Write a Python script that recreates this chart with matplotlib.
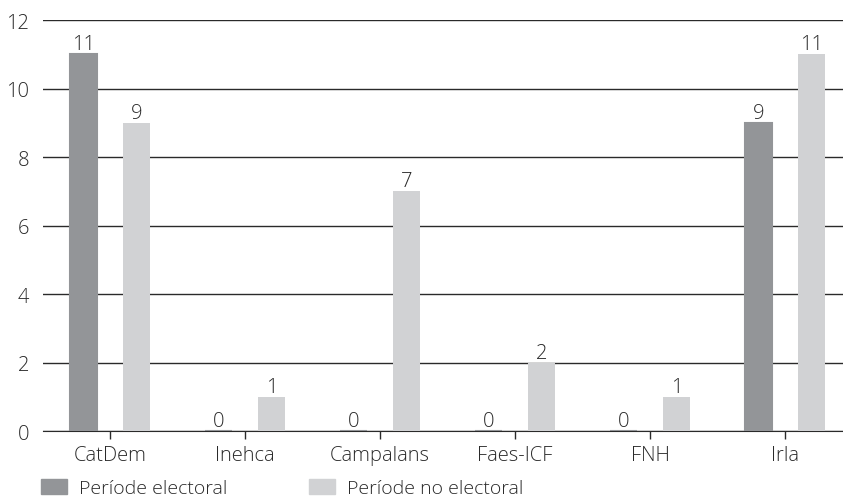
import matplotlib.pyplot as plt
import matplotlib.patches as mpatches
import numpy as np

plt.rcParams['font.family'] = ['Open Sans', 'DejaVu Sans']
plt.rcParams['font.weight'] = 'light'

# dades
categories = ['CatDem', 'Inehca', 'Campalans', 'Faes-ICF', 'FNH', 'Irla']
electoral = [11, 0, 0, 0, 0, 9]
no_electoral = [9, 1, 7, 2, 1, 11]
series_names = ['Període electoral', 'Període no electoral']

c_dark = '#939598'
c_light = '#d1d2d4'
txt = '#2a2a2a'

fig = plt.figure(figsize=(8.43, 5.02), dpi=100)
ax = fig.add_axes([0.051, 0.1394, 0.949, 0.8187])

x = np.arange(len(categories))
w = 0.2
off = 0.196
b1 = ax.bar(x - off, electoral, w, color=c_dark, edgecolor=c_dark, linewidth=1.5, zorder=4)
b2 = ax.bar(x + off, no_electoral, w, color=c_light, zorder=3)

for bars, vals in [(b1, electoral), (b2, no_electoral)]:
    for r, v in zip(bars, vals):
        ax.annotate(str(v), (r.get_x() + r.get_width() / 2, v), xytext=(0, 0),
                    textcoords='offset points', ha='center', va='bottom',
                    fontsize=14.5, color=txt)

ax.set_ylim(0, 12)
ax.set_xlim(-0.496, 5.43)
ax.set_yticks(range(0, 13, 2))
ax.yaxis.grid(True, color=txt, linewidth=1)
ax.set_axisbelow(True)
ax.tick_params(axis='y', length=0, labelsize=14.5, pad=10, labelcolor=txt)
ax.set_xticks(x)
ax.set_xticklabels(categories)
ax.tick_params(axis='x', length=6, width=1, color=txt, labelsize=14.5,
               labelcolor=txt, pad=4)
for s in ['left', 'right', 'top']:
    ax.spines[s].set_visible(False)
ax.spines['bottom'].set_color(txt)

# llegenda, una entrada a cada posició
for name, col, xpos in zip(series_names, [c_dark, c_light], [0.049, 0.367]):
    fig.legend([mpatches.Patch(color=col)], [name], loc='center left',
               bbox_to_anchor=(xpos, 0.025), frameon=False, fontsize=14,
               handlelength=1.34, handleheight=0.77, handletextpad=0.62,
               borderpad=0, borderaxespad=0, labelcolor=txt)

fig.savefig('out.png', dpi=100)
